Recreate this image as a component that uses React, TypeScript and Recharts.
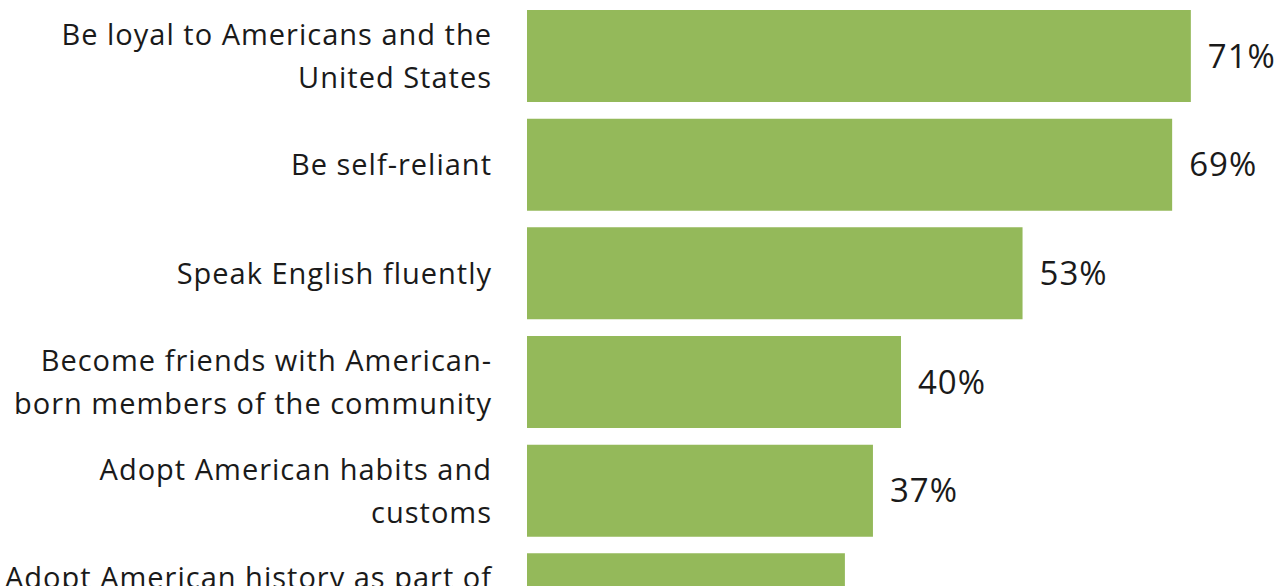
import React from "react";
import { BarChart, Bar, XAxis, YAxis, LabelList } from "recharts";

const categories = [
  "Be loyal to Americans and the\nUnited States",
  "Be self-reliant",
  "Speak English fluently",
  "Become friends with American-\nborn members of the community",
  "Adopt American habits and\ncustoms",
  "Adopt American history as part of\ntheir own",
];
const values = [71, 69, 53, 40, 37, 34];

const data = categories.map((c, i) => ({ name: c, value: values[i] }));

const FONT = "'Open Sans', 'Noto Sans', sans-serif";
const TEXT = "#1a1a1a";

const CategoryTick = (props: any) => {
  const { x, y, payload } = props;
  const lines = String(payload.value).split("\n");
  const lh = 43;
  const start = -((lines.length - 1) * lh) / 2;
  return (
    <text
      x={x}
      y={y}
      textAnchor="end"
      fill={TEXT}
      fontSize={29}
      letterSpacing={1}
      fontFamily={FONT}
    >
      {lines.map((l, i) => (
        <tspan key={i} x={x} y={y + start + i * lh} dy="0.35em">
          {l}
        </tspan>
      ))}
    </text>
  );
};

export default function App() {
  return (
    <div
      style={{
        position: "absolute",
        left: 0,
        top: 0,
        width: 1279,
        height: 586,
        overflow: "hidden",
        background: "#fff",
      }}
    >
      <BarChart
        width={1279}
        height={654}
        data={data}
        layout="vertical"
        margin={{ top: 2, right: 4, bottom: 0, left: 0 }}
      >
        <XAxis type="number" domain={[0, 80]} hide />
        <YAxis
          type="category"
          dataKey="name"
          width={527}
          tickLine={false}
          axisLine={false}
          tickSize={0}
          tickMargin={35}
          tick={<CategoryTick />}
          interval={0}
        />
        <Bar dataKey="value" fill="#94B95A" barSize={92} isAnimationActive={false}>
          <LabelList
            dataKey="value"
            position="right"
            offset={17}
            formatter={(v: any) => `${v}%`}
            fill={TEXT}
            fontSize={33}
            letterSpacing={1}
            fontFamily={FONT}
          />
        </Bar>
      </BarChart>
    </div>
  );
}
